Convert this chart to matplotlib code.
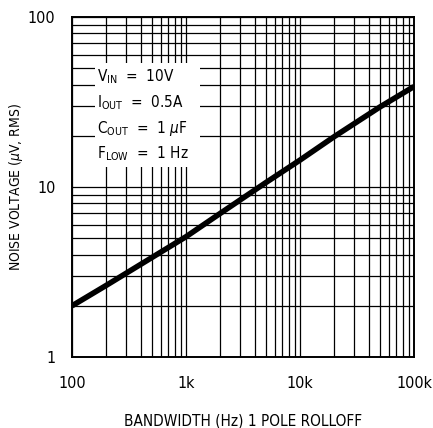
import matplotlib
matplotlib.use('Agg')
import matplotlib.pyplot as plt
from matplotlib.patches import Rectangle
from matplotlib.ticker import FixedLocator, NullFormatter, LogLocator

plt.rcParams['font.family'] = ['DejaVu Sans']
plt.rcParams['font.stretch'] = 'condensed'
plt.rcParams['mathtext.fontset'] = 'dejavusans'

# noise voltage vs bandwidth
bandwidth = [100, 200, 500, 1000, 2000, 5000, 10000, 20000, 50000, 100000]
noise_uv = [2.0, 2.64, 3.84, 5.1, 7.0, 10.6, 14.4, 19.8, 29.5, 39.0]

x_ticks = [100, 1000, 10000, 100000]
x_labels = ['100', '1k', '10k', '100k']
y_ticks = [1, 10, 100]
y_labels = ['1', '10', '100']

conditions = [r'V$_{\mathsf{IN}}$  =  10V',
              r'I$_{\mathsf{OUT}}$  =  0.5A',
              r'C$_{\mathsf{OUT}}$  =  1 $\mu$F',
              r'F$_{\mathsf{LOW}}$  =  1 Hz']

fig = plt.figure(figsize=(4.33, 4.28), dpi=100)
ax = fig.add_axes([72 / 433, 71 / 428, 342 / 433, 340 / 428])

ax.set_xscale('log')
ax.set_yscale('log')
ax.set_xlim(100, 100000)
ax.set_ylim(1, 100)

ax.plot(bandwidth, noise_uv, color='black', lw=4.0, solid_capstyle='butt', zorder=5)

ax.xaxis.set_major_locator(FixedLocator(x_ticks))
ax.set_xticklabels(x_labels)
ax.yaxis.set_major_locator(FixedLocator(y_ticks))
ax.set_yticklabels(y_labels)
ax.xaxis.set_minor_locator(LogLocator(base=10, subs=range(2, 10)))
ax.yaxis.set_minor_locator(LogLocator(base=10, subs=range(2, 10)))
ax.xaxis.set_minor_formatter(NullFormatter())
ax.yaxis.set_minor_formatter(NullFormatter())
ax.grid(True, which='both', color='black', lw=0.9)
ax.set_axisbelow(True)
ax.tick_params(which='both', length=0, labelsize=11.5)
ax.tick_params(axis='x', pad=14)
ax.tick_params(axis='y', pad=12)
for s in ax.spines.values():
    s.set_linewidth(1.4)

# white panel behind the test conditions
ax.add_patch(Rectangle((23 / 342, (357 - 167) / 340), 105 / 342, 104 / 340,
                       transform=ax.transAxes, facecolor='white',
                       edgecolor='none', zorder=3))
for i, txt in enumerate(conditions):
    ax.text(25 / 342, (357 - 77 - i * 25.5) / 340, txt, transform=ax.transAxes,
            fontsize=11, va='center', ha='left', zorder=4)

ax.set_xlabel('BANDWIDTH (Hz) 1 POLE ROLLOFF', fontsize=11, labelpad=16)
ax.set_ylabel(r'NOISE VOLTAGE ($\mu$V, RMS)', fontsize=10)
ax.yaxis.set_label_coords(-47 / 342, 0.5)

fig.savefig('out.png', dpi=100)
